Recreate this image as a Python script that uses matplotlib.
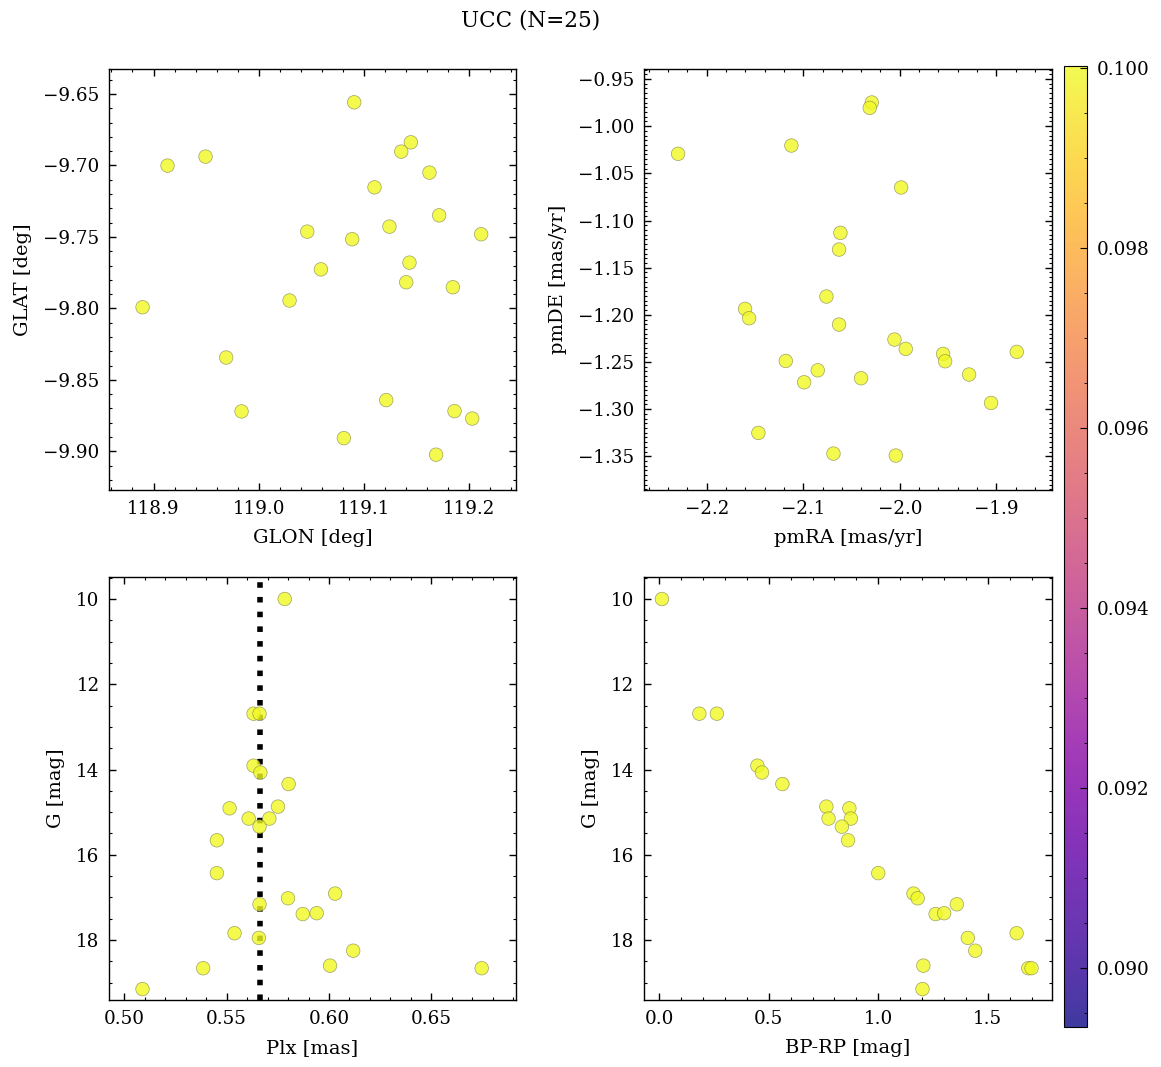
import matplotlib
matplotlib.use("Agg")
import matplotlib.pyplot as plt
import numpy as np
from matplotlib.ticker import AutoMinorLocator, MultipleLocator, FormatStrFormatter
from matplotlib.colors import Normalize

plt.rcParams['font.family'] = ['DejaVu Serif']
plt.rcParams['mathtext.fontset'] = 'dejavuserif'

# ---- data ----
glon = [119.0906, 119.1444, 119.1353, 118.9494, 118.9133, 119.1621, 119.1099, 119.1713,
        119.1241, 119.0460, 119.2112, 119.0887, 119.1431, 119.0590, 119.1400, 119.1843,
        119.0292, 118.8896, 118.9690, 119.1210, 119.1859, 118.9836, 119.2027, 119.0808,
        119.1684]
glat = [-9.6558, -9.6838, -9.6903, -9.6938, -9.7001, -9.7050, -9.7153, -9.7349,
        -9.7428, -9.7463, -9.7481, -9.7516, -9.7680, -9.7727, -9.7817, -9.7852,
        -9.7945, -9.7992, -9.8344, -9.8642, -9.8719, -9.8721, -9.8771, -9.8908,
        -9.9024]
pmra = [-2.0290, -2.0311, -2.2297, -2.1123, -1.9986, -2.0615, -2.0629, -2.0760,
        -2.1603, -2.1561, -2.0629, -2.0055, -1.9938, -1.8788, -1.9551, -1.9530,
        -2.1181, -2.0850, -1.9282, -2.0401, -2.0991, -1.9054, -2.1465, -2.0687,
        -2.0041]
pmde = [-0.9749, -0.9806, -1.0293, -1.0205, -1.0650, -1.1131, -1.1308, -1.1806,
        -1.1937, -1.2036, -1.2103, -1.2262, -1.2361, -1.2393, -1.2414, -1.2492,
        -1.2489, -1.2588, -1.2633, -1.2672, -1.2715, -1.2934, -1.3252, -1.3471,
        -1.3492]
gmag = [10.00, 12.69, 12.69, 13.91, 14.07, 14.34, 14.87, 14.91, 15.15, 15.15,
        15.34, 15.66, 16.43, 16.91, 17.02, 17.16, 17.39, 17.37, 17.84, 17.95,
        18.25, 18.60, 18.66, 18.66, 19.15]
plx = [0.5784, 0.5632, 0.5661, 0.5632, 0.5665, 0.5803, 0.5751, 0.5515, 0.5608, 0.5709,
       0.5661, 0.5453, 0.5453, 0.6030, 0.5800, 0.5661, 0.5872, 0.5940, 0.5539, 0.5658,
       0.6118, 0.6005, 0.5386, 0.6745, 0.5090]
bprp = [0.012, 0.183, 0.263, 0.448, 0.469, 0.562, 0.763, 0.868, 0.773, 0.875,
        0.834, 0.862, 1.000, 1.161, 1.180, 1.359, 1.262, 1.301, 1.632, 1.409,
        1.443, 1.206, 1.685, 1.700, 1.202]
prob = [0.1] * 25
plx_median = 0.5665
cbar_ticks = [0.090, 0.092, 0.094, 0.096, 0.098, 0.100]
title = "UCC (N=25)"

W, H = 1161, 1067
fig = plt.figure(figsize=(W / 100, H / 100), dpi=100)

def px_axes(x0, y0, x1, y1):
    return fig.add_axes([x0 / W, 1 - y1 / H, (x1 - x0) / W, (y1 - y0) / H])

ax1 = px_axes(109.3, 69.3, 515.7, 490)
ax2 = px_axes(644, 69.3, 1051.7, 490)
ax3 = px_axes(109.3, 577.3, 515.7, 1000)
ax4 = px_axes(644, 577.3, 1051.7, 1000)
cax = px_axes(1064, 66, 1087, 1027)

norm = Normalize(vmin=0.08934, vmax=0.10002)
kw = dict(c=prob, cmap='plasma', norm=norm, s=95, alpha=0.8,
          edgecolors='#8a8a50', linewidths=0.5, zorder=3)

FS_TICK = 13.2
FS_LAB = 14
sc = ax1.scatter(glon, glat, **kw)
ax2.scatter(pmra, pmde, **kw)
ax3.scatter(plx, gmag, **kw)
ax4.scatter(bprp, gmag, **kw)
ax3.axvline(plx_median, color='black', ls=':', lw=4, zorder=2)

ax1.set_xlim(118.858, 119.244)
ax1.set_ylim(-9.9271, -9.6327)
ax2.set_xlim(-2.265, -1.8426)
ax2.set_ylim(-1.3857, -0.9397)
ax3.set_xlim(0.4928, 0.6911)
ax3.set_ylim(19.406, 9.491)
ax4.set_xlim(-0.0699, 1.7922)
ax4.set_ylim(19.406, 9.491)

ax1.xaxis.set_major_locator(MultipleLocator(0.1))
ax1.yaxis.set_major_locator(MultipleLocator(0.05))
ax2.xaxis.set_major_locator(MultipleLocator(0.1))
ax2.yaxis.set_major_locator(MultipleLocator(0.05))
ax3.xaxis.set_major_locator(MultipleLocator(0.05))
ax3.yaxis.set_major_locator(MultipleLocator(2))
ax4.xaxis.set_major_locator(MultipleLocator(0.5))
ax4.yaxis.set_major_locator(MultipleLocator(2))

ax1.xaxis.set_minor_locator(AutoMinorLocator(5))
ax1.yaxis.set_minor_locator(AutoMinorLocator(5))
ax2.xaxis.set_minor_locator(AutoMinorLocator(5))
ax2.yaxis.set_minor_locator(AutoMinorLocator(10))
ax3.xaxis.set_minor_locator(AutoMinorLocator(5))
ax3.yaxis.set_minor_locator(AutoMinorLocator(4))
ax4.xaxis.set_minor_locator(AutoMinorLocator(5))
ax4.yaxis.set_minor_locator(AutoMinorLocator(4))

LP = 8
ax1.set_xlabel("GLON [deg]", fontsize=FS_LAB, labelpad=LP)
ax1.set_ylabel("GLAT [deg]", fontsize=FS_LAB, labelpad=LP)
ax2.set_xlabel("pmRA [mas/yr]", fontsize=FS_LAB, labelpad=LP)
ax2.set_ylabel("pmDE [mas/yr]", fontsize=FS_LAB, labelpad=LP)
ax3.set_xlabel("Plx [mas]", fontsize=FS_LAB, labelpad=LP)
ax3.set_ylabel("G [mag]", fontsize=FS_LAB, labelpad=LP)
ax4.set_xlabel("BP-RP [mag]", fontsize=FS_LAB, labelpad=LP)
ax4.set_ylabel("G [mag]", fontsize=FS_LAB, labelpad=LP)

for ax in (ax1, ax2, ax3, ax4):
    ax.tick_params(which='both', direction='in', top=True, right=True,
                   labelsize=FS_TICK, pad=7)
    ax.tick_params(which='major', length=5, width=1)
    ax.tick_params(which='minor', length=2.5, width=0.8)
    for sp in ax.spines.values():
        sp.set_linewidth(1)

cb = fig.colorbar(sc, cax=cax)
cb.set_ticks(cbar_ticks)
cb.ax.yaxis.set_minor_locator(AutoMinorLocator(4))
cb.ax.tick_params(which='both', direction='in', labelsize=FS_TICK, pad=7)
cb.ax.tick_params(which='major', length=5)
cb.ax.tick_params(which='minor', length=2.5)
cb.ax.yaxis.set_major_formatter(FormatStrFormatter('%.3f'))

fig.text(531 / W, 1 - 20 / H, title, ha='center', va='center', fontsize=15.5)

fig.savefig("out.png", dpi=100)
